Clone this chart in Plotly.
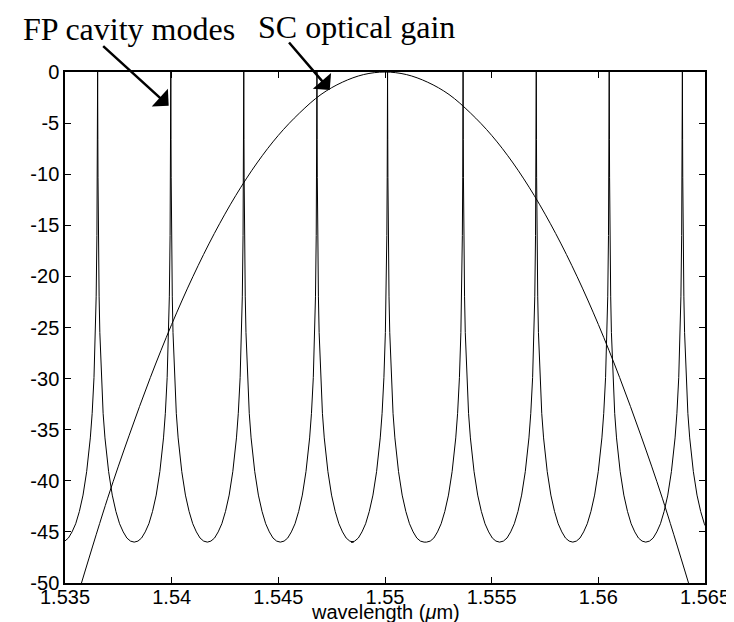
import plotly.graph_objects as go

# --- data ---
# Fabry-Perot mode peak wavelengths (um)
mode_peaks = [1.53653, 1.53996, 1.54338, 1.54681, 1.55012, 1.55366, 1.55709, 1.56051, 1.56394]
# one-sided mode profile: offset from a peak (um) and level (dB)
profile_offset = [0.0, 0.0000034, 0.0000069, 0.000010, 0.000017, 0.000034, 0.000069,
                  0.000103, 0.000171, 0.000257, 0.000343, 0.000514, 0.000685, 0.000857,
                  0.001028, 0.001199, 0.00137, 0.00154, 0.001713]
profile_db = [0.0, -1.4, -4.1, -6.6, -10.3, -16.0, -22.0, -25.5, -29.9, -33.4, -35.8,
              -39.1, -41.4, -43.0, -44.2, -45.0, -45.6, -45.9, -46.0]

# semiconductor optical gain curve
gain_wl = [1.5357, 1.537, 1.538, 1.539, 1.540, 1.541, 1.542, 1.543, 1.544, 1.545, 1.546,
           1.547, 1.548, 1.549, 1.550, 1.551, 1.552, 1.553, 1.554, 1.555, 1.556, 1.557,
           1.558, 1.559, 1.560, 1.561, 1.562, 1.563, 1.5643]
gain_db = [-50.5, -41.7, -35.6, -29.9, -24.7, -20.0, -15.8, -12.1, -8.9, -6.2, -4.0,
           -2.2, -1.0, -0.25, 0.0, -0.25, -1.0, -2.2, -4.0, -6.2, -8.9, -12.1,
           -15.8, -20.0, -24.7, -29.9, -35.6, -41.7, -50.5]

x_ticks = [1.535, 1.54, 1.545, 1.55, 1.555, 1.56, 1.565]
x_ticktext = ["1.535", "1.54", "1.545", "1.55", "1.555", "1.56", "1.565"]
y_ticks = [0, -5, -10, -15, -20, -25, -30, -35, -40, -45, -50]
y_ticktext = ["0", "-5", "-10", "-15", "-20", "-25", "-30", "-35", "-40", "-45", "-50"]

# build the FP curve by placing the read profile around each peak
fp_x, fp_y = [], []
for p in mode_peaks:
    for o, v in zip(reversed(profile_offset), reversed(profile_db)):
        fp_x.append(p - o)
        fp_y.append(v)
    for o, v in zip(profile_offset[1:], profile_db[1:]):
        fp_x.append(p + o)
        fp_y.append(v)

fig = go.Figure()
fig.add_trace(go.Scatter(x=fp_x, y=fp_y, mode="lines",
                         line=dict(color="black", width=1), showlegend=False))
fig.add_trace(go.Scatter(x=gain_wl, y=gain_db, mode="lines", line_shape="spline",
                         line=dict(color="black", width=1), showlegend=False))

sans = dict(family="Liberation Sans, Arial", size=20, color="black")
axis_common = dict(showgrid=False, zeroline=False, showline=True, linecolor="black",
                   linewidth=1.5, mirror="ticks", ticks="inside", ticklen=6,
                   tickcolor="black", tickwidth=1, tickfont=sans)

fig.update_xaxes(range=[1.535, 1.565], tickvals=x_ticks, ticktext=x_ticktext,
                 ticklabelstandoff=-5, **axis_common)
fig.update_yaxes(range=[-50, 0], tickvals=y_ticks, ticktext=y_ticktext, **axis_common)

# x-axis label
fig.add_annotation(text="wavelength (<i>μ</i>m)", xref="paper", yref="paper",
                   x=0.5, y=(575 - 604) / 511, xanchor="center", yanchor="middle",
                   showarrow=False, font=sans)

serif = dict(family="Liberation Serif, Times New Roman", size=32, color="black")
fig.add_annotation(text="FP cavity modes", xref="paper", yref="paper",
                   x=(12 - 57) / 648, y=(575 - 21) / 511, xanchor="left", yanchor="middle",
                   showarrow=False, font=serif)
fig.add_annotation(text="SC optical gain", xref="paper", yref="paper",
                   x=(250 - 57) / 648, y=(575 - 19) / 511, xanchor="left", yanchor="middle",
                   showarrow=False, font=serif)
fig.add_annotation(text="", x=1.53986, y=-3.3, xref="x", yref="y",
                   ax=-67, ay=-61, showarrow=True, arrowhead=1, arrowsize=1.6,
                   arrowwidth=2.5, arrowcolor="black")
fig.add_annotation(text="", x=1.54741, y=-1.76, xref="x", yref="y",
                   ax=-42, ay=-49, showarrow=True, arrowhead=1, arrowsize=1.6,
                   arrowwidth=2.5, arrowcolor="black")

fig.update_layout(width=734, height=622, margin=dict(l=57, r=29, t=64, b=47),
                  plot_bgcolor="white", paper_bgcolor="white")

fig.write_html("out.html")
